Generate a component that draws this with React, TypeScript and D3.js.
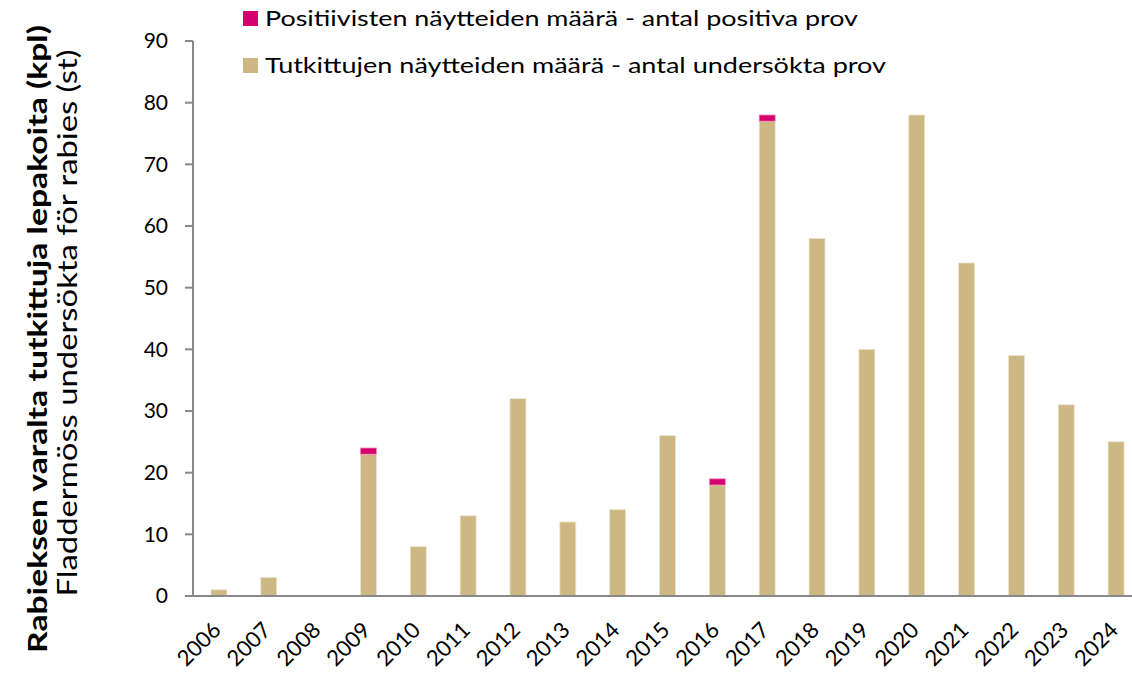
import React, { useEffect, useRef } from "react";
import * as d3 from "d3";

const years = [
  "2006", "2007", "2008", "2009", "2010", "2011", "2012", "2013", "2014", "2015",
  "2016", "2017", "2018", "2019", "2020", "2021", "2022", "2023", "2024",
];
// examined but negative + the positives stacked on top
const negative = [1, 3, 0, 23, 8, 13, 32, 12, 14, 26, 18, 77, 58, 40, 78, 54, 39, 31, 25];
const positive = [0, 0, 0, 1, 0, 0, 0, 0, 0, 0, 1, 1, 0, 0, 0, 0, 0, 0, 0];
const yTicks = [0, 10, 20, 30, 40, 50, 60, 70, 80, 90];

const legendItems = [
  { label: "Positiivisten näytteiden määrä - antal positiva prov", color: "#D5006D" },
  { label: "Tutkittujen näytteiden määrä - antal undersökta prov", color: "#CDB783" },
];

const W = 1132;
const H = 675;
const FONT = "Lato, 'Open Sans', sans-serif";

const App = () => {
  const svgRef = useRef<SVGSVGElement>(null);

  useEffect(() => {
    const svg = d3.select(svgRef.current);
    svg.selectAll("*").remove();

    const x = d3.scaleBand().domain(years).range([194, 1141]).paddingInner(0.68).paddingOuter(0.34);
    const y = d3.scaleLinear().domain([0, 90]).range([596, 41]);

    const g = svg.append("g").style("font-family", FONT);

    // bars
    g.append("g")
      .selectAll("rect")
      .data(years)
      .join("rect")
      .attr("x", (d) => x(d)!)
      .attr("width", x.bandwidth())
      .attr("y", (d, i) => y(negative[i]))
      .attr("height", (d, i) => y(0) - y(negative[i]))
      .attr("fill", legendItems[1].color)
      .attr("stroke", "#EEE4CC")
      .attr("stroke-width", 0.8);

    g.append("g")
      .selectAll("rect")
      .data(years.filter((d, i) => positive[i] > 0))
      .join("rect")
      .attr("x", (d) => x(d)!)
      .attr("width", x.bandwidth())
      .attr("y", (d) => {
        const i = years.indexOf(d);
        return y(negative[i] + positive[i]);
      })
      .attr("height", (d) => {
        const i = years.indexOf(d);
        return y(negative[i]) - y(negative[i] + positive[i]);
      })
      .attr("fill", legendItems[0].color)
      .attr("stroke", "#EE88B8")
      .attr("stroke-width", 0.8);

    // y axis
    const yAxis = g.append("g");
    yAxis.append("line")
      .attr("x1", 193).attr("x2", 193)
      .attr("y1", y(90)).attr("y2", y(0))
      .attr("stroke", "#898989").attr("stroke-width", 2);
    yAxis.selectAll("line.tick")
      .data(yTicks)
      .join("line")
      .attr("class", "tick")
      .attr("x1", 185).attr("x2", 193)
      .attr("y1", (d) => y(d)).attr("y2", (d) => y(d))
      .attr("stroke", "#898989").attr("stroke-width", 2);
    yAxis.selectAll("text")
      .data(yTicks)
      .join("text")
      .attr("x", 168)
      .attr("y", (d) => y(d))
      .attr("dy", "0.35em")
      .attr("text-anchor", "end")
      .attr("font-size", 21)
      .attr("fill", "#000")
      .text((d) => d);

    // x axis
    g.append("line")
      .attr("x1", 193).attr("x2", W)
      .attr("y1", y(0)).attr("y2", y(0))
      .attr("stroke", "#898989").attr("stroke-width", 2);
    g.append("g")
      .selectAll("text")
      .data(years)
      .join("text")
      .attr("transform", (d) => `translate(${x(d)! + x.bandwidth() / 2 - 2},${626}) rotate(-45)`)
      .attr("text-anchor", "end")
      .attr("dy", "0.35em")
      .attr("font-size", 22)
      .attr("fill", "#000")
      .text((d) => d);

    // y titles
    g.append("text")
      .attr("transform", `translate(47,339) rotate(-90)`)
      .attr("text-anchor", "middle")
      .attr("font-size", 26)
      .attr("font-weight", "bold")
      .attr("textLength", 628)
      .attr("lengthAdjust", "spacingAndGlyphs")
      .text("Rabieksen varalta tutkittuja lepakoita (kpl)");
    g.append("text")
      .attr("transform", `translate(77,323) rotate(-90)`)
      .attr("text-anchor", "middle")
      .attr("font-size", 26)
      .attr("textLength", 547)
      .attr("lengthAdjust", "spacingAndGlyphs")
      .text("Fladdermöss undersökta för rabies (st)");

    // legend
    const leg = g.append("g");
    legendItems.forEach((item, i) => {
      const ly = 11 + i * 47;
      leg.append("rect")
        .attr("x", 243).attr("y", ly)
        .attr("width", 15).attr("height", 15)
        .attr("fill", item.color);
      leg.append("text")
        .attr("x", 265).attr("y", ly + 8)
        .attr("dy", "0.35em")
        .attr("font-size", 21)
        .attr("textLength", i === 0 ? 593 : 621)
        .attr("lengthAdjust", "spacingAndGlyphs")
        .text(item.label);
    });
  }, []);

  return <svg ref={svgRef} width={W} height={H} style={{ display: "block", position: "absolute", left: 0, top: 0 }} />;
};

export default App;
